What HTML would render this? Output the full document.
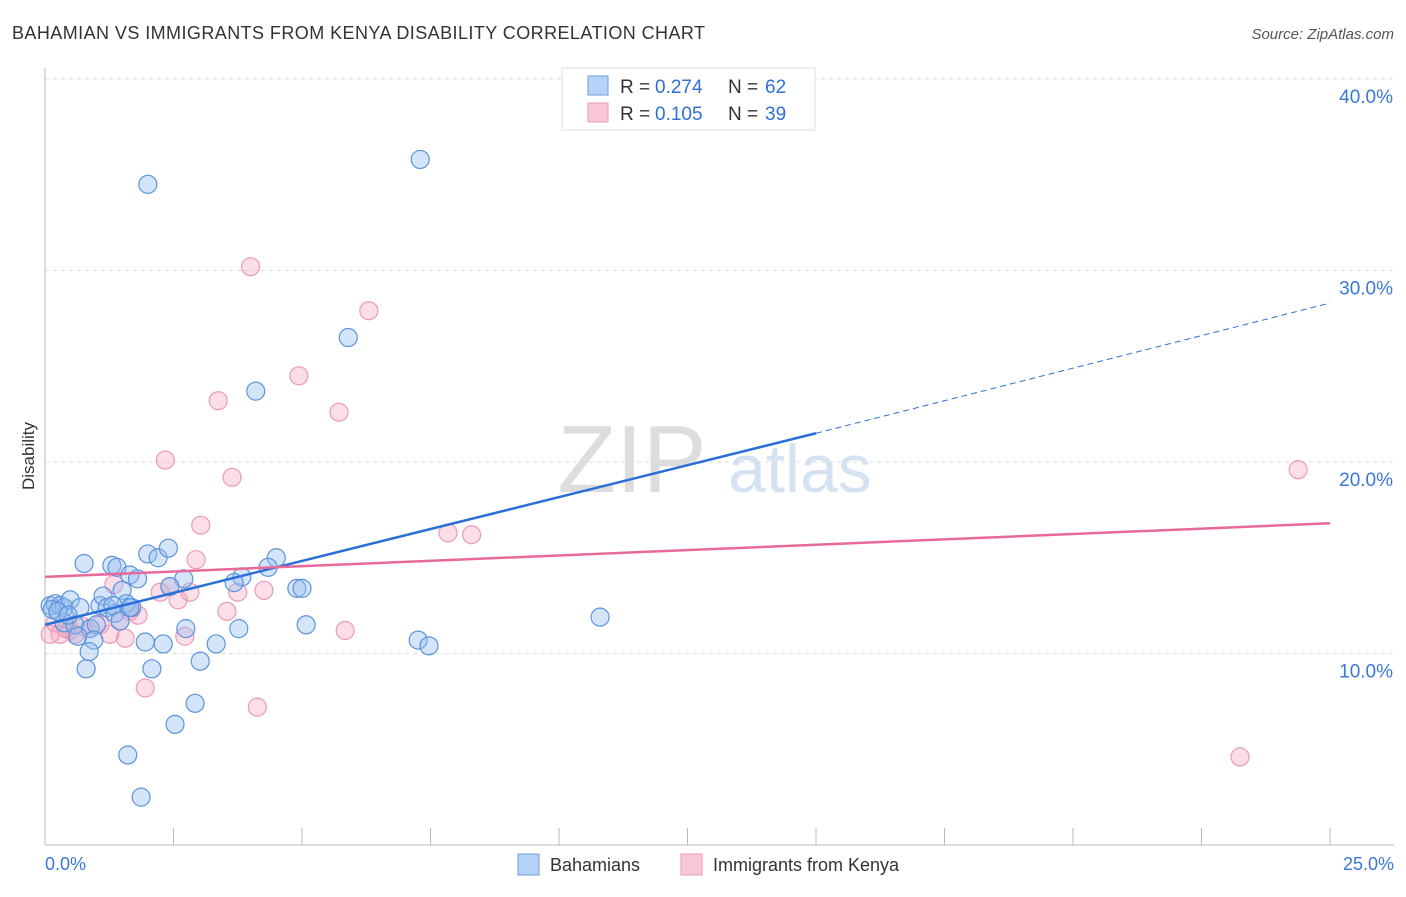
<!DOCTYPE html>
<html><head><meta charset="utf-8"><style>
body{margin:0;background:#fff;font-family:"Liberation Sans",sans-serif}
svg text{font-family:"Liberation Sans",sans-serif}
</style></head><body>
<svg id="c" width="1406" height="892">
<text x="12" y="39" font-size="18" fill="#333" textLength="693">BAHAMIAN VS IMMIGRANTS FROM KENYA DISABILITY CORRELATION CHART</text>
<text x="1394" y="39" font-size="15" fill="#555" text-anchor="end" font-style="italic">Source: ZipAtlas.com</text>
<text x="34" y="456" font-size="17" fill="#333" transform="rotate(-90 34 456)" text-anchor="middle">Disability</text>
<text x="632" y="492" font-size="96" fill="#ddd" text-anchor="middle" font-family="Liberation Serif">ZIP</text>
<text x="800" y="492" font-size="68" fill="#d4e2f4" text-anchor="middle">atlas</text>
<g id="grid"></g><g id="pts"></g><g id="lines"></g>
<g>
<rect x="562" y="68" width="253" height="62" fill="#fff" stroke="#ddd"/>
<rect x="588" y="76" width="20" height="19" fill="#b6d2f6" stroke="#6a9fe0"/>
<rect x="588" y="103" width="20" height="19" fill="#f9c8d8" stroke="#ec9ab5"/>
<text x="620" y="93" font-size="19" fill="#333">R =</text><text x="655" y="93" font-size="19" fill="#2f6fd6">0.274</text>
<text x="728" y="93" font-size="19" fill="#333">N =</text><text x="765" y="93" font-size="19" fill="#2f6fd6">62</text>
<text x="620" y="120" font-size="19" fill="#333">R =</text><text x="655" y="120" font-size="19" fill="#2f6fd6">0.105</text>
<text x="728" y="120" font-size="19" fill="#333">N =</text><text x="765" y="120" font-size="19" fill="#2f6fd6">39</text>
</g>
<g>
<rect x="518" y="854" width="21" height="21" fill="#b6d2f6" stroke="#6a9fe0"/>
<text x="550" y="871" font-size="18" fill="#333">Bahamians</text>
<rect x="681" y="854" width="21" height="21" fill="#f9c8d8" stroke="#ec9ab5"/>
<text x="713" y="871" font-size="18" fill="#333">Immigrants from Kenya</text>
</g>
<text x="45" y="870" font-size="18" fill="#3a78d8">0.0%</text>
<text x="1394" y="870" font-size="18" fill="#3a78d8" text-anchor="end">25.0%</text>
</svg>
<script>
const yTicks=[10,20,30,40];
const blueX=[2.0,7.3,5.9,4.1,0.76,1.3,2.0,2.2,2.4,1.4,1.65,1.8,2.7,2.43,4.5,4.34,3.83,3.68,4.9,5.0,0.1,0.2,0.3,0.37,0.49,0.68,1.07,1.13,1.21,1.5,1.58,1.69,1.36,0.37,0.58,0.88,1.0,0.64,0.95,0.86,1.95,2.3,2.74,3.33,3.77,5.08,7.26,7.47,10.8,0.8,2.08,3.02,2.92,2.53,1.61,1.87,0.14,0.25,0.45,1.32,1.46,1.65];
const blueY=[34.5,35.8,26.5,23.7,14.7,14.6,15.2,15.0,15.5,14.5,14.1,13.9,13.9,13.5,15.0,14.5,14.0,13.7,13.4,13.4,12.5,12.6,12.5,12.4,12.8,12.4,12.5,13.0,12.4,13.3,12.6,12.4,12.1,11.6,11.5,11.3,11.5,10.9,10.7,10.1,10.6,10.5,11.3,10.5,11.3,11.5,10.7,10.4,11.9,9.2,9.2,9.6,7.4,6.3,4.7,2.5,12.3,12.2,12.0,12.5,11.7,12.4];
const pinkX=[4.0,6.3,4.94,5.72,3.37,2.34,3.64,3.03,2.94,1.34,2.24,2.43,2.82,2.59,3.75,4.26,3.54,1.81,1.46,1.07,0.88,0.2,0.29,0.49,0.1,1.56,2.72,5.84,1.95,4.13,7.84,8.3,24.38,23.25,0.74,1.26,0.58,0.41,1.65];
const pinkY=[30.2,27.9,24.5,22.6,23.2,20.1,19.2,16.7,14.9,13.6,13.2,13.5,13.2,12.8,13.2,13.3,12.2,12.0,11.7,11.5,11.3,11.6,11.0,11.2,11.0,10.8,10.9,11.2,8.2,7.2,16.3,16.2,19.6,4.6,11.4,11.0,11.0,11.3,12.2];
const blueLine=[[0,11.5],[15,21.5]], blueDash=[[15,21.5],[25,28.3]];
const pinkLine=[[0,14.0],[25,16.8]];
const X=v=>45+v/25*1285, Y=v=>845-v*19.15;
const ns="http://www.w3.org/2000/svg";
function mk(t,a,p){const e=document.createElementNS(ns,t);for(const k in a)e.setAttribute(k,a[k]);p.appendChild(e);return e;}
const g=document.getElementById('grid');
let ax=mk('line',{x1:45,y1:68,x2:45,y2:845,stroke:'#bbb'},g);


let bx=mk('line',{x1:45,y1:845,x2:1394,y2:845,stroke:'#bbb'},g);


for(let i=1;i<=10;i++){const x=45+i*128.5;const t=mk('line',{x1:x,y1:828,x2:x,y2:845,stroke:'#bbb'},g);

}
yTicks.forEach(v=>{const l=mk('line',{x1:45,y1:Y(v),x2:1394,y2:Y(v),stroke:'#ddd','stroke-dasharray':'4,4'},g);


const t=mk('text',{x:1393,y:Y(v)+24,'font-size':19,fill:'#3a78d8','text-anchor':'end'},g);t.textContent=v.toFixed(1)+'%';

});
const p=document.getElementById('pts');
pinkX.forEach((x,i)=>{const c=mk('circle',{cx:X(x),cy:Y(pinkY[i]),r:9,fill:'rgba(244,160,190,0.35)',stroke:'#ec9ab5','stroke-width':1.2},p);

});
blueX.forEach((x,i)=>{const c=mk('circle',{cx:X(x),cy:Y(blueY[i]),r:9,fill:'rgba(150,190,240,0.4)',stroke:'#5b93dc','stroke-width':1.2},p);

});
const L=document.getElementById('lines');
let a=mk('line',{x1:X(blueLine[0][0]),y1:Y(blueLine[0][1]),x2:X(blueLine[1][0]),y2:Y(blueLine[1][1]),stroke:'#2a6fd8','stroke-width':2.5},L);


let b=mk('line',{x1:X(blueDash[0][0]),y1:Y(blueDash[0][1]),x2:X(blueDash[1][0]),y2:Y(blueDash[1][1]),stroke:'#2a6fd8','stroke-width':1,'stroke-dasharray':'6,4'},L);


let c=mk('line',{x1:X(pinkLine[0][0]),y1:Y(pinkLine[0][1]),x2:X(pinkLine[1][0]),y2:Y(pinkLine[1][1]),stroke:'#e8699a','stroke-width':2.5},L);


</script>
</body></html>
